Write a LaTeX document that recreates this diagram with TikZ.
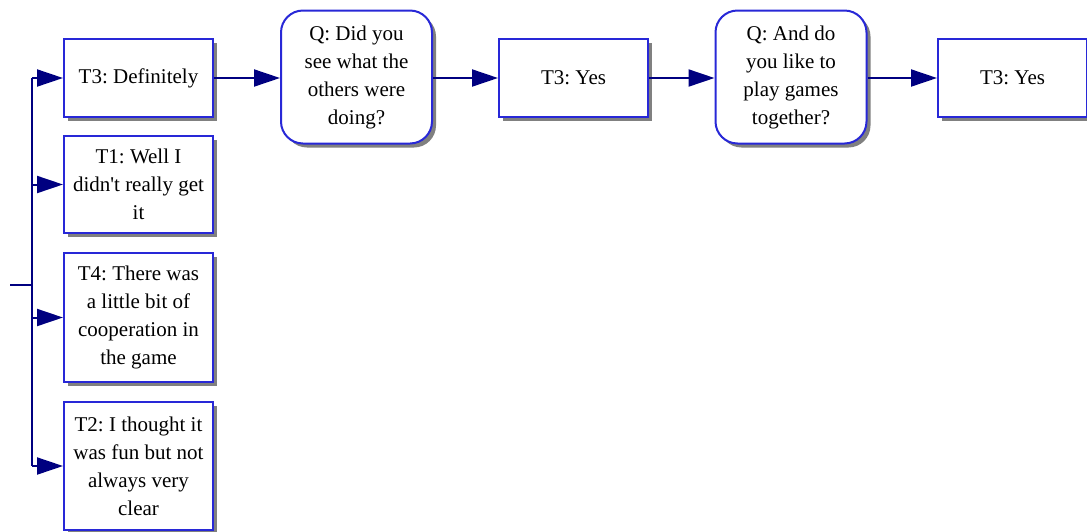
\documentclass[tikz,border=0pt]{standalone}
\usepackage{fontspec}
\setmainfont{Liberation Serif}
\usetikzlibrary{arrows.meta,shadows}
\definecolor{boxblue}{RGB}{40,40,215}
\definecolor{linknavy}{RGB}{0,0,128}
\tikzset{
  base/.style={draw=boxblue, line width=1pt, fill=white, align=center,
    font=\fontsize{10.5}{14}\selectfont\frenchspacing, inner sep=0pt,
    drop shadow={shadow xshift=2pt, shadow yshift=-2pt, fill=black!50, opacity=1}},
  answer/.style={base, minimum width=74.5pt},
  question/.style={base, rounded corners=11pt, minimum width=75.5pt, minimum height=66.5pt},
  link/.style={draw=linknavy, line width=1pt, -{Triangle[length=13pt,width=8.5pt]}},
  trunk/.style={draw=linknavy, line width=1pt}
}
\begin{document}
\begin{tikzpicture}[x=0.5pt, y=-0.5pt]
  \useasboundingbox (0,0) rectangle (1087,531);
  \clip (0,0) rectangle (1087,531);

  % answer boxes in the left column
  \node[answer, minimum height=39pt]   (def)  at (138.5,78)    {T3: Definitely};
  \node[answer, minimum height=48.5pt] (well) at (138.5,184.5) {T1: Well I\\didn\textquotesingle t really get\\it};
  \node[answer, minimum height=64.5pt] (coop) at (138.5,317.5) {T4: There was\\a little bit of\\cooperation in\\the game};
  \node[answer, minimum height=64pt]   (fun)  at (138.5,466)   {T2: I thought it\\was fun but not\\always very\\clear};

  % question / answer chain along the top
  \node[question] (q1) at (356.5,77) {Q: Did you\\see what the\\others were\\doing?};
  \node[answer, minimum height=39pt] (yes1) at (573.5,78) {T3: Yes};
  \node[question] (q2) at (791,77) {Q: And do\\you like to\\play games\\together?};
  \node[answer, minimum height=39pt] (yes2) at (1012.5,78) {T3: Yes};

  % branching trunk on the left
  \coordinate (stub) at (10,285);
  \coordinate (join) at (32,285);
  \coordinate (tdef)  at (32,78);
  \coordinate (twell) at (32,184.5);
  \coordinate (tcoop) at (32,317.5);
  \coordinate (tfun)  at (32,466);
  \draw[trunk] (stub) -- (join);
  \draw[trunk] (tdef) -- (tfun);
  \draw[link] (tdef)  -- (def.west);
  \draw[link] (twell) -- (well.west);
  \draw[link] (tcoop) -- (coop.west);
  \draw[link] (tfun)  -- (fun.west);

  % chain connectors
  \draw[link] (def.east)  -- (def.east -| q1.west);
  \draw[link] (q1.east |- yes1.west) -- (yes1.west);
  \draw[link] (yes1.east) -- (yes1.east -| q2.west);
  \draw[link] (q2.east |- yes2.west) -- (yes2.west);
\end{tikzpicture}
\end{document}
